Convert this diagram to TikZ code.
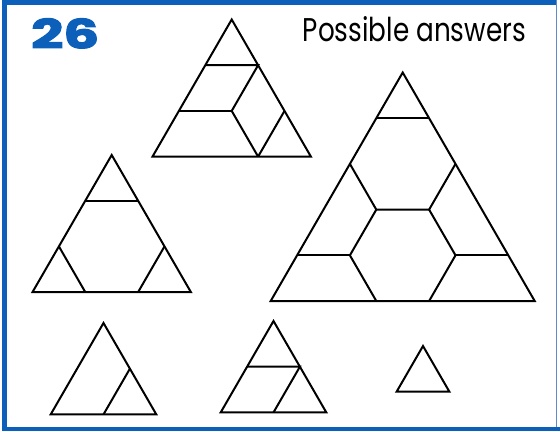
\documentclass[tikz,border=0pt]{standalone}
\usepackage{fontspec}
\newfontfamily\pop{Poppins}
\newfontfamily\popheavy{Poppins}[FakeBold=2.5]
\definecolor{frameblue}{RGB}{12,96,186}
\definecolor{edgeblue}{RGB}{95,140,200}
\tikzset{
  piece/.style={line width=2bp, black, line join=miter},
  lattice/.style={x={(52.8bp,0bp)}, y={(-26.4bp,-45.7bp)}}
}
\begin{document}
\begin{tikzpicture}[x=1bp,y=-1bp]
\useasboundingbox (0,0) rectangle (560,431);
% frame
\fill[frameblue] (2,0) rectangle (7,431);
\fill[frameblue] (2,0) rectangle (556,5);
\fill[frameblue] (2,427) rectangle (560,431);
\draw[edgeblue, line width=1.5bp] (556.5,0) -- (556.5,427);
% titles
\node[anchor=base west, inner sep=0pt, text=frameblue] (num) at (31,48.3)
  {\resizebox{68bp}{30bp}{\popheavy\bfseries 26}};
\node[anchor=base west, inner sep=0pt] (title) at (302.7,41)
  {\resizebox{223bp}{25bp}{\pop Possible answers}};
% T1
\begin{scope}[shift={(231.7,19.5)}, lattice]
  \draw[piece] (0,0) -- (0,3) -- (3,3) -- cycle;
  \draw[piece] (0,1) -- (1,1) -- (1,2) -- (2,3);
  \draw[piece] (0,2) -- (1,2);
  \draw[piece] (2,2) -- (2,3);
\end{scope}
% T2
\begin{scope}[shift={(111.7,155)}, lattice]
  \draw[piece] (0,0) -- (0,3) -- (3,3) -- cycle;
  \draw[piece] (0,1) -- (1,1);
  \draw[piece] (0,2) -- (1,3);
  \draw[piece] (2,2) -- (2,3);
\end{scope}
% T3
\begin{scope}[shift={(402.7,72.5)}, lattice]
  \draw[piece] (0,0) -- (0,5) -- (5,5) -- cycle;
  \draw[piece] (0,1) -- (1,1);
  \draw[piece] (0,2) -- (1,3) -- (2,3) -- (2,2);
  \draw[piece] (1,3) -- (1,4) -- (2,5);
  \draw[piece] (0,4) -- (1,4);
  \draw[piece] (2,3) -- (3,4) -- (3,5);
  \draw[piece] (3,4) -- (4,4);
\end{scope}
% T4
\begin{scope}[shift={(103.5,323)}, lattice]
  \draw[piece] (0,0) -- (0,2) -- (2,2) -- cycle;
  \draw[piece] (1,1) -- (1,2);
\end{scope}
% T5
\begin{scope}[shift={(273.5,321)}, lattice]
  \draw[piece] (0,0) -- (0,2) -- (2,2) -- cycle;
  \draw[piece] (0,1) -- (1,1) -- (1,2);
\end{scope}
% T6
\begin{scope}[shift={(423,346)}, lattice]
  \draw[piece] (0,0) -- (0,1) -- (1,1) -- cycle;
\end{scope}
\end{tikzpicture}
\end{document}
